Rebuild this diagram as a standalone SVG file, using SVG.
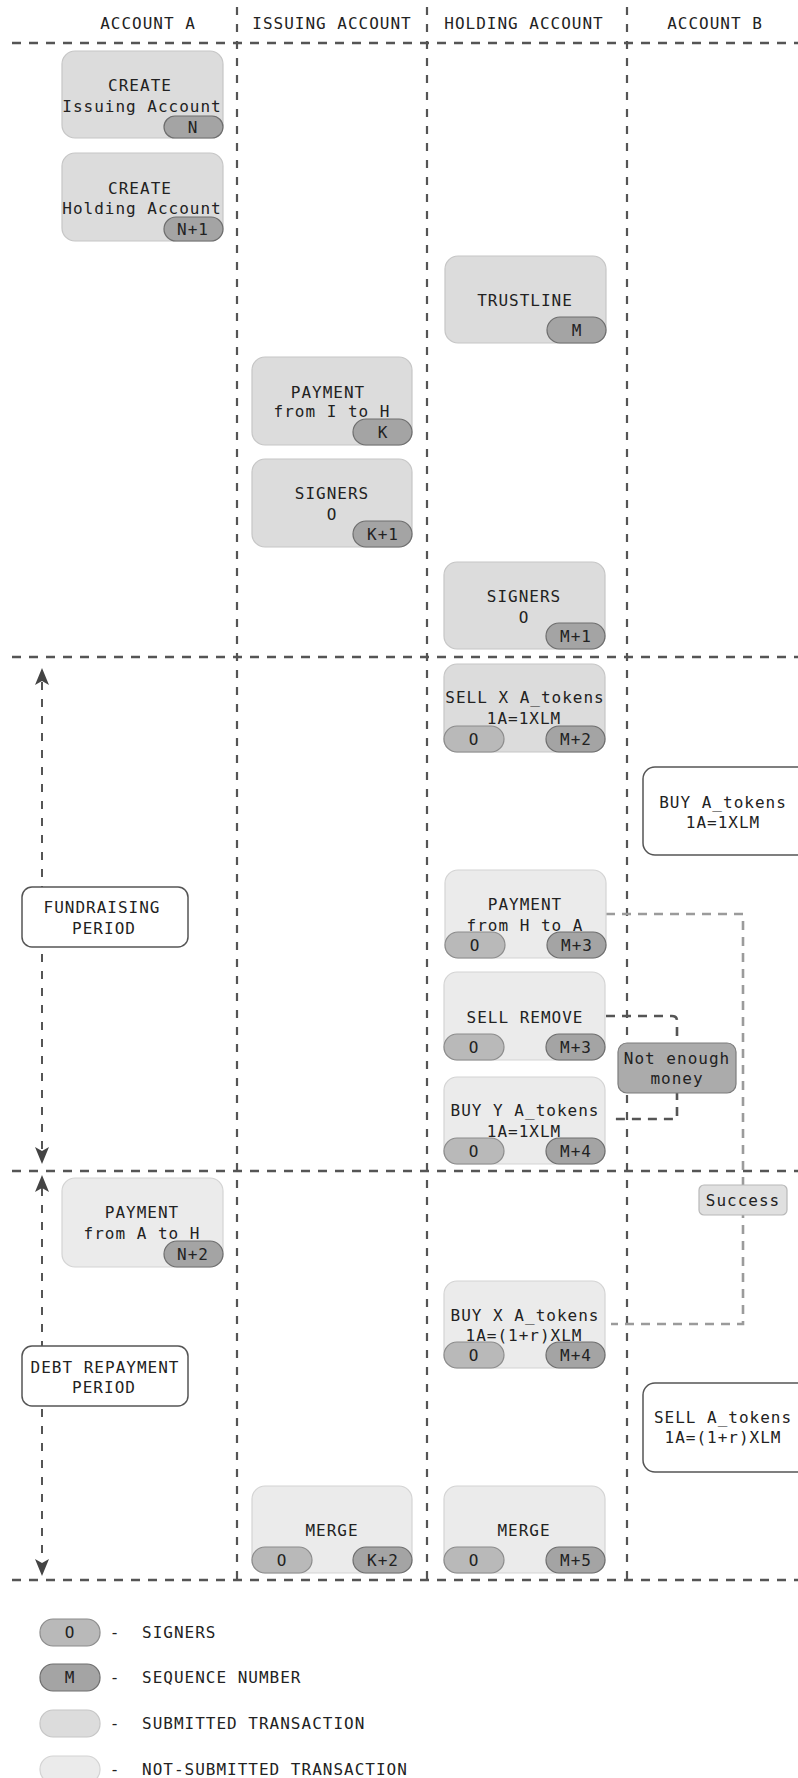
<svg xmlns="http://www.w3.org/2000/svg" width="798" height="1778" viewBox="0 0 798 1778">
<style>
text{font-family:"DejaVu Sans Mono","Liberation Mono",monospace;font-size:16px;fill:#222;letter-spacing:1px;text-anchor:middle}
.sub{fill:#dcdcdc;stroke:#c6c6c6;stroke-width:1.2}
.nsub{fill:#ebebeb;stroke:#d4d4d4;stroke-width:1.2}
.white{fill:#fff;stroke:#555;stroke-width:1.5}
.sig{fill:#b9b9b9;stroke:#8c8c8c;stroke-width:1.2}
.seq{fill:#a4a4a4;stroke:#6e6e6e;stroke-width:1.2}
.grid{stroke:#555;stroke-width:2.6;stroke-dasharray:9 8;fill:none}
.vdiv{stroke:#555;stroke-width:2.2;stroke-dasharray:8 9;fill:none}
.period{stroke:#555;stroke-width:2;stroke-dasharray:8 9;fill:none}
.gray{stroke:#9b9b9b;stroke-width:2.6;stroke-dasharray:9 7;fill:none}
.dark{stroke:#555;stroke-width:2.6;stroke-dasharray:9 7;fill:none}
.lt{text-anchor:start}
</style>
<rect width="798" height="1778" fill="#fff"/>
<g id="lanes">
<text x="148" y="29">ACCOUNT A</text>
<text x="332" y="29">ISSUING ACCOUNT</text>
<text x="524" y="29">HOLDING ACCOUNT</text>
<text x="715" y="29">ACCOUNT B</text>
<line class="vdiv" x1="237" y1="7" x2="237" y2="1579"/>
<line class="vdiv" x1="427" y1="7" x2="427" y2="1579"/>
<line class="vdiv" x1="627" y1="7" x2="627" y2="1579"/>
<line class="grid" x1="12" y1="43" x2="798" y2="43"/>
<line class="grid" x1="12" y1="657" x2="798" y2="657"/>
<line class="grid" x1="12" y1="1171" x2="798" y2="1171"/>
<line class="grid" x1="12" y1="1580" x2="798" y2="1580"/>
</g>
<g id="connectors">
<line class="period" x1="42" y1="682" x2="42" y2="1150"/>
<polygon points="42,668 35,685 42,681 49,685" fill="#444"/>
<polygon points="42,1164 35,1147 42,1151 49,1147" fill="#444"/>
<line class="period" x1="42" y1="1188" x2="42" y2="1562"/>
<polygon points="42,1175 35,1192 42,1188 49,1192" fill="#444"/>
<polygon points="42,1576 35,1559 42,1563 49,1559" fill="#444"/>
<path class="gray" d="M606,914 H743 V1324 H611"/>
<path class="dark" d="M606,1016 H672 Q677,1016 677,1021 V1119 H611"/>
</g>
<g id="createIssuing">
<rect class="sub" x="62" y="51" width="161" height="87" rx="13"/>
<text x="140" y="91">CREATE</text>
<text x="142" y="112">Issuing Account</text>
<rect class="seq" x="164" y="116" width="59" height="22" rx="11"/>
<text x="193" y="133">N</text>
</g>
<g id="createHolding">
<rect class="sub" x="62" y="153" width="161" height="88" rx="13"/>
<text x="140" y="194">CREATE</text>
<text x="142" y="214">Holding Account</text>
<rect class="seq" x="164" y="217" width="59" height="24" rx="12"/>
<text x="193" y="235">N+1</text>
</g>
<g id="trustline">
<rect class="sub" x="445" y="256" width="161" height="87" rx="13"/>
<text x="525" y="306">TRUSTLINE</text>
<rect class="seq" x="547" y="317" width="59" height="26" rx="13"/>
<text x="577" y="336">M</text>
</g>
<g id="paymentIH">
<rect class="sub" x="252" y="357" width="160" height="88" rx="13"/>
<text x="328" y="398">PAYMENT</text>
<text x="332" y="417">from I to H</text>
<rect class="seq" x="353" y="419" width="59" height="26" rx="13"/>
<text x="383" y="438">K</text>
</g>
<g id="signersI">
<rect class="sub" x="252" y="459" width="160" height="88" rx="13"/>
<text x="332" y="499">SIGNERS</text>
<text x="332" y="520">O</text>
<rect class="seq" x="353" y="521" width="59" height="26" rx="13"/>
<text x="383" y="540">K+1</text>
</g>
<g id="signersH">
<rect class="sub" x="444" y="562" width="161" height="87" rx="13"/>
<text x="524" y="602">SIGNERS</text>
<text x="524" y="623">O</text>
<rect class="seq" x="546" y="623" width="59" height="26" rx="13"/>
<text x="576" y="642">M+1</text>
</g>
<g id="sellX">
<rect class="sub" x="444" y="664" width="161" height="88" rx="13"/>
<text x="525" y="703">SELL X A_tokens</text>
<text x="524" y="724">1A=1XLM</text>
<rect class="sig" x="444" y="726" width="60" height="26" rx="13"/>
<text x="474" y="745">O</text>
<rect class="seq" x="546" y="726" width="59" height="26" rx="13"/>
<text x="576" y="745">M+2</text>
</g>
<g id="buyA">
<rect class="white" x="643" y="767" width="170" height="88" rx="12"/>
<text x="723" y="808">BUY A_tokens</text>
<text x="723" y="828">1A=1XLM</text>
</g>
<g id="fundraising">
<rect class="white" x="22" y="887" width="166" height="60" rx="10"/>
<text x="102" y="913">FUNDRAISING</text>
<text x="104" y="934">PERIOD</text>
</g>
<g id="paymentHA">
<rect class="nsub" x="445" y="870" width="161" height="88" rx="13"/>
<text x="525" y="910">PAYMENT</text>
<text x="525" y="931">from H to A</text>
<rect class="sig" x="445" y="932" width="60" height="26" rx="13"/>
<text x="475" y="951">O</text>
<rect class="seq" x="547" y="932" width="59" height="26" rx="13"/>
<text x="577" y="951">M+3</text>
</g>
<g id="sellRemove">
<rect class="nsub" x="444" y="972" width="161" height="88" rx="13"/>
<text x="525" y="1023">SELL REMOVE</text>
<rect class="sig" x="444" y="1034" width="60" height="26" rx="13"/>
<text x="474" y="1053">O</text>
<rect class="seq" x="546" y="1034" width="59" height="26" rx="13"/>
<text x="576" y="1053">M+3</text>
</g>
<g id="notEnoughMoney">
<rect x="618" y="1043" width="118" height="50" rx="9" fill="#ababab" stroke="#7c7c7c" stroke-width="1.2"/>
<text x="677" y="1064">Not enough</text>
<text x="677" y="1084">money</text>
</g>
<g id="buyY">
<rect class="nsub" x="444" y="1077" width="161" height="87" rx="13"/>
<text x="525" y="1116">BUY Y A_tokens</text>
<text x="524" y="1137">1A=1XLM</text>
<rect class="sig" x="444" y="1138" width="60" height="26" rx="13"/>
<text x="474" y="1157">O</text>
<rect class="seq" x="546" y="1138" width="59" height="26" rx="13"/>
<text x="576" y="1157">M+4</text>
</g>
<g id="success">
<rect x="699" y="1185" width="88" height="30" rx="5" fill="#e0e0e0" stroke="#b8b8b8" stroke-width="1.2"/>
<text x="743" y="1206">Success</text>
</g>
<g id="paymentAH">
<rect class="nsub" x="62" y="1178" width="161" height="89" rx="13"/>
<text x="142" y="1218">PAYMENT</text>
<text x="142" y="1239">from A to H</text>
<rect class="seq" x="164" y="1241" width="59" height="26" rx="13"/>
<text x="193" y="1260">N+2</text>
</g>
<g id="buyX">
<rect class="nsub" x="444" y="1281" width="161" height="87" rx="13"/>
<text x="525" y="1321">BUY X A_tokens</text>
<text x="524" y="1341">1A=(1+r)XLM</text>
<rect class="sig" x="444" y="1342" width="60" height="26" rx="13"/>
<text x="474" y="1361">O</text>
<rect class="seq" x="546" y="1342" width="59" height="26" rx="13"/>
<text x="576" y="1361">M+4</text>
</g>
<g id="debtRepayment">
<rect class="white" x="22" y="1346" width="166" height="60" rx="10"/>
<text x="105" y="1373">DEBT REPAYMENT</text>
<text x="104" y="1393">PERIOD</text>
</g>
<g id="sellA">
<rect class="white" x="643" y="1383" width="170" height="89" rx="12"/>
<text x="723" y="1423">SELL A_tokens</text>
<text x="723" y="1443">1A=(1+r)XLM</text>
</g>
<g id="mergeI">
<rect class="nsub" x="252" y="1486" width="160" height="87" rx="13"/>
<text x="332" y="1536">MERGE</text>
<rect class="sig" x="252" y="1547" width="60" height="26" rx="13"/>
<text x="282" y="1566">O</text>
<rect class="seq" x="353" y="1547" width="59" height="26" rx="13"/>
<text x="383" y="1566">K+2</text>
</g>
<g id="mergeH">
<rect class="nsub" x="444" y="1486" width="161" height="87" rx="13"/>
<text x="524" y="1536">MERGE</text>
<rect class="sig" x="444" y="1547" width="60" height="26" rx="13"/>
<text x="474" y="1566">O</text>
<rect class="seq" x="546" y="1547" width="59" height="26" rx="13"/>
<text x="576" y="1566">M+5</text>
</g>
<g id="legend">
<rect class="sig" x="40" y="1619" width="60" height="27" rx="13"/>
<text x="70" y="1638">O</text>
<text x="115" y="1638">-</text>
<text class="lt" x="142" y="1638">SIGNERS</text>
<rect class="seq" x="40" y="1664" width="60" height="27" rx="13"/>
<text x="70" y="1683">M</text>
<text x="115" y="1683">-</text>
<text class="lt" x="142" y="1683">SEQUENCE NUMBER</text>
<rect class="sub" x="40" y="1710" width="60" height="27" rx="13"/>
<text x="115" y="1729">-</text>
<text class="lt" x="142" y="1729">SUBMITTED TRANSACTION</text>
<rect class="nsub" x="40" y="1756" width="60" height="27" rx="13"/>
<text x="115" y="1775">-</text>
<text class="lt" x="142" y="1775">NOT-SUBMITTED TRANSACTION</text>
</g>
</svg>
